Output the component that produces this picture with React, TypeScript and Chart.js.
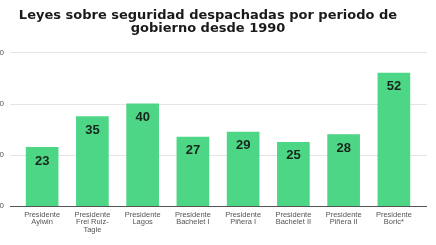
import React, { useEffect, useRef } from "react";
import { Chart, registerables } from "chart.js";

Chart.register(...registerables);

const titleLines = ["Leyes sobre seguridad despachadas por periodo de", "gobierno desde 1990"];
const categories: string[][] = [
  ["Presidente", "Aylwin"],
  ["Presidente", "Frei Ruiz-", "Tagle"],
  ["Presidente", "Lagos"],
  ["Presidente", "Bachelet I"],
  ["Presidente", "Piñera I"],
  ["Presidente", "Bachelet II"],
  ["Presidente", "Piñera II"],
  ["Presidente", "Boric*"],
];
const leyes = [23, 35, 40, 27, 29, 25, 28, 52];
const yMax = 60;
const yStep = 20;

const OFF = 20;
const CW = 456;
const CH = 245;

const gridPlugin = {
  id: "extGrid",
  beforeDatasetsDraw(chart: any) {
    const ctx = chart.ctx;
    const y = chart.scales.y;
    ctx.save();
    y.ticks.forEach((t: any) => {
      const py = Math.round(y.getPixelForValue(t.value)) + 0.5;
      ctx.beginPath();
      ctx.strokeStyle = t.value === 0 ? "#555555" : "#e4e4e4";
      ctx.lineWidth = 1;
      ctx.moveTo(OFF + 10, py);
      ctx.lineTo(OFF + 427, py);
      ctx.stroke();
    });
    ctx.restore();
  },
};

const labelPlugin = {
  id: "barLabels",
  afterDatasetsDraw(chart: any) {
    const ctx = chart.ctx;
    const meta = chart.getDatasetMeta(0);
    ctx.save();
    ctx.font = "bold 13px 'Liberation Sans', Arial, sans-serif";
    ctx.fillStyle = "#17261c";
    ctx.textAlign = "center";
    ctx.textBaseline = "alphabetic";
    meta.data.forEach((bar: any, i: number) => {
      ctx.fillText(String(leyes[i]), bar.x, bar.y + 17.5);
    });
    ctx.restore();
  },
};

export default function App() {
  const ref = useRef<HTMLCanvasElement>(null);
  useEffect(() => {
    if (!ref.current) return;
    const chart = new Chart(ref.current, {
      type: "bar",
      data: {
        labels: categories,
        datasets: [
          {
            data: leyes,
            backgroundColor: "#4dd685",
            borderWidth: 0,
            categoryPercentage: 1,
            barPercentage: 0.65,
          },
        ],
      },
      plugins: [gridPlugin, labelPlugin],
      options: {
        responsive: false,
        animation: false,
        maintainAspectRatio: false,
        layout: { padding: 0 },
        plugins: {
          legend: { display: false },
          tooltip: { enabled: false },
          title: {
            display: true,
            text: titleLines,
            color: "#1a1a1a",
            font: { size: 13, weight: "bold", family: "'DejaVu Sans', sans-serif", lineHeight: 1.025 },
            padding: { top: 9, bottom: 16.7 },
          },
        },
        scales: {
          x: {
            grid: { display: false, drawTicks: false },
            border: { display: false },
            ticks: {
              color: "#555555",
              font: { size: 7.5, family: "'Liberation Sans', Arial, sans-serif", lineHeight: 1.0 },
              padding: 5,
              maxRotation: 0,
              autoSkip: false,
            },
            afterFit(scale: any) {
              scale.height = 39;
            },
          },
          y: {
            min: 0,
            max: yMax,
            grid: { display: false, drawTicks: false },
            border: { display: false },
            ticks: {
              stepSize: yStep,
              color: "#555555",
              font: { size: 8, family: "'Liberation Sans', Arial, sans-serif" },
              padding: 13,
            },
            afterFit(scale: any) {
              scale.width = OFF + 17;
            },
          },
          yRight: {
            position: "right",
            display: true,
            grid: { display: false, drawTicks: false },
            border: { display: false },
            ticks: { display: false },
            afterFit(scale: any) {
              scale.width = 17;
            },
          },
        },
      },
    });
    return () => chart.destroy();
  }, []);
  return (
    <div
      style={{
        position: "fixed",
        left: 0,
        top: 0,
        width: 436,
        height: 245,
        overflow: "hidden",
        background: "#ffffff",
      }}
    >
      <canvas
        ref={ref}
        width={CW}
        height={CH}
        style={{ position: "absolute", left: -OFF, top: 0, width: CW, height: CH }}
      />
    </div>
  );
}
